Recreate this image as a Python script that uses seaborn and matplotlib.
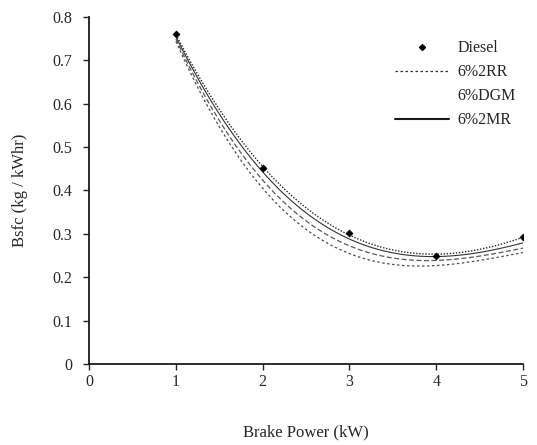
import numpy as np
import pandas as pd
import matplotlib
matplotlib.use("Agg")
import matplotlib.pyplot as plt
import seaborn as sns
from matplotlib.lines import Line2D

# values
power = [1, 2, 3, 4, 5]
diesel = [0.76, 0.452, 0.302, 0.25, 0.293]
mr2 = [0.755, 0.44, 0.292, 0.245, 0.28]
dgm = [0.75, 0.42, 0.278, 0.235, 0.268]
rr2 = [0.745, 0.40, 0.262, 0.222, 0.258]

sns.set_style("ticks")
plt.rcParams['font.family'] = ['Liberation Serif', 'DejaVu Serif']

fig = plt.figure(figsize=(5.37, 4.45), dpi=100)
ax = fig.add_axes([0.166, 0.182, 0.808, 0.780])

# polynomial trendlines like the spreadsheet original
sns.regplot(x=power, y=diesel, order=3, ci=None, scatter=False, ax=ax,
            line_kws=dict(color='0.15', lw=1.0, ls=(0, (1, 1.2))))
sns.regplot(x=power, y=mr2, order=3, ci=None, scatter=False, ax=ax,
            line_kws=dict(color='0.2', lw=0.8, ls='-'))
sns.regplot(x=power, y=dgm, order=3, ci=None, scatter=False, ax=ax,
            line_kws=dict(color='0.35', lw=0.9, ls=(0, (4, 2))))
sns.regplot(x=power, y=rr2, order=3, ci=None, scatter=False, ax=ax,
            line_kws=dict(color='0.3', lw=0.9, ls=(0, (2, 2))))
sns.scatterplot(x=power, y=diesel, ax=ax, marker='D', s=14, color='black',
                edgecolor='black', zorder=5)

ax.set_xlim(0, 5)
ax.set_ylim(0, 0.8)
ax.set_xticks(range(0, 6))
ax.set_yticks(np.arange(0, 0.81, 0.1))
ax.set_yticklabels(['0', '0.1', '0.2', '0.3', '0.4', '0.5', '0.6', '0.7', '0.8'])
ax.tick_params(direction='out', length=4, width=1, colors='0.15', labelsize=11.5)
ax.tick_params(axis='y', pad=8)
ax.tick_params(axis='x', pad=3)
for s in ['left', 'bottom']:
    ax.spines[s].set_linewidth(1.3)
    ax.spines[s].set_color('0.1')
sns.despine(ax=ax)
ax.set_xlabel('Brake Power (kW)', fontsize=12, labelpad=25)
ax.set_ylabel('Bsfc (kg / kWhr)', fontsize=12, labelpad=18)

handles = [
    Line2D([], [], color='black', marker='D', ms=3, ls='none'),
    Line2D([], [], color='0.2', lw=0.9, ls=(0, (2, 2))),
    Line2D([], [], color='white', lw=0),
    Line2D([], [], color='0.1', lw=1.5, ls='-'),
]
ax.legend(handles, ['Diesel', '6%2RR', '6%DGM', '6%2MR'], loc='upper left',
          bbox_to_anchor=(0.705, 0.933), frameon=False, fontsize=11.5,
          borderaxespad=0, borderpad=0,
          handlelength=3.4, labelspacing=0.5, handletextpad=0.5)

fig.savefig('out.png', dpi=100)
